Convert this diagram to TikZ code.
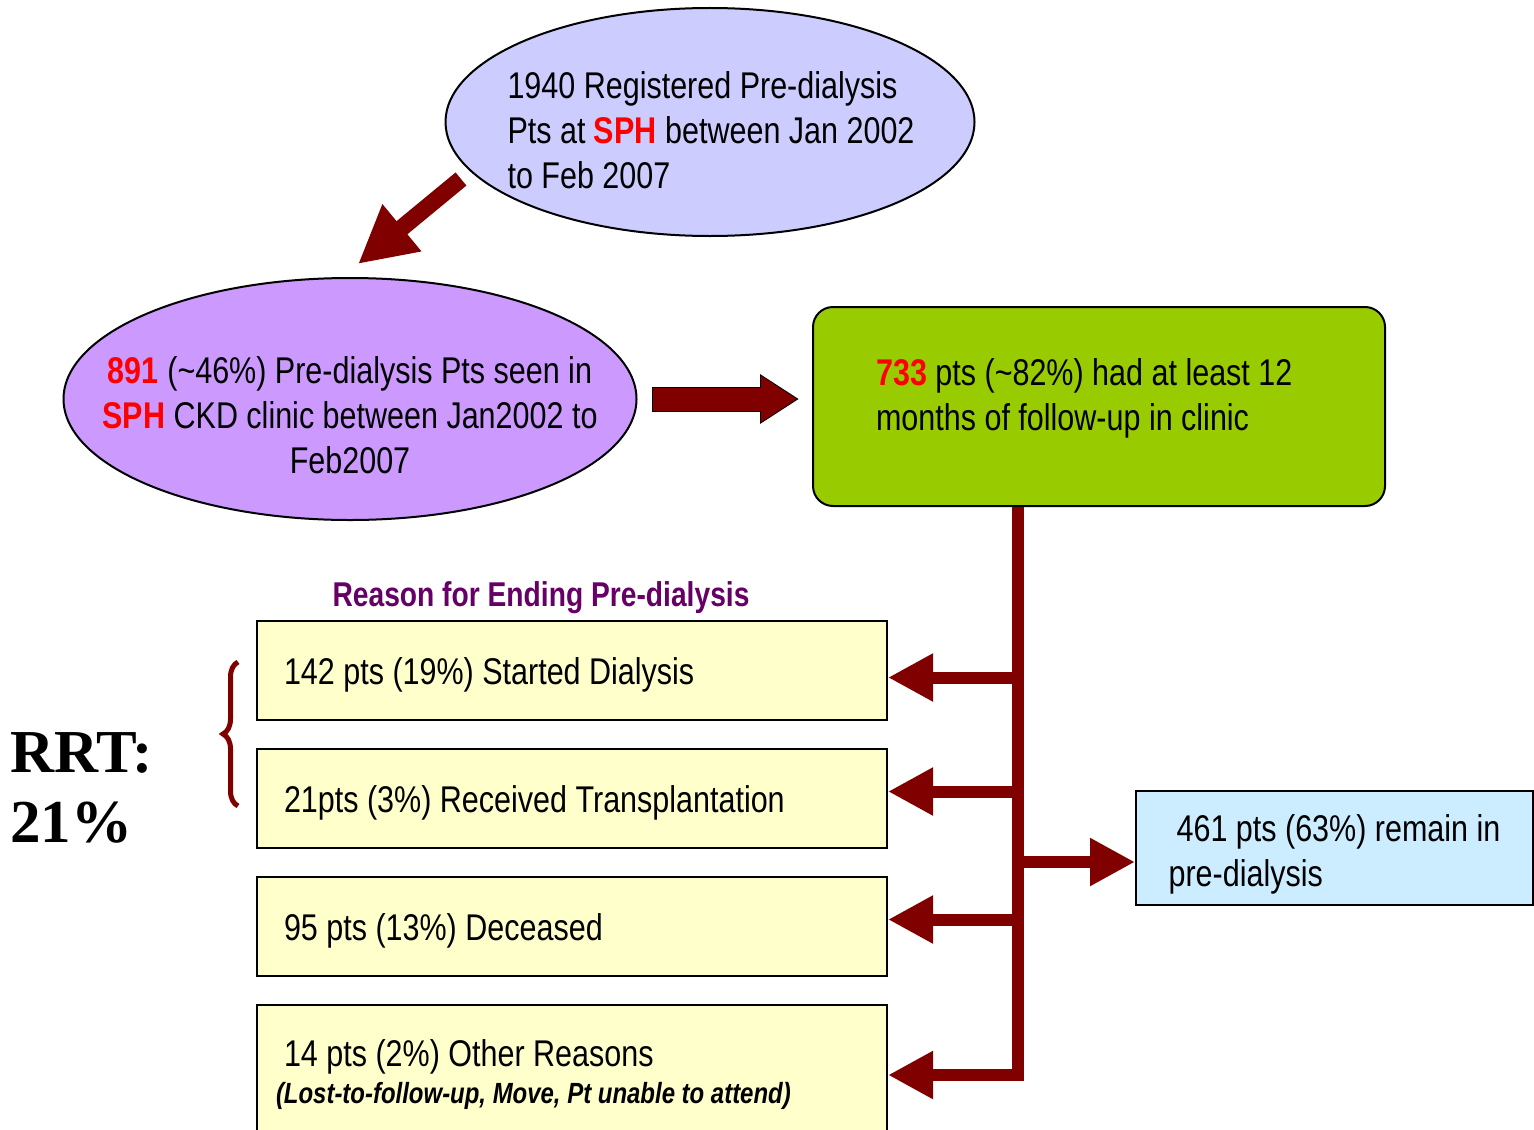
\documentclass[tikz,border=0pt]{standalone}
\usepackage{fontspec}
\setmainfont{Liberation Sans}[FakeStretch=0.82]
\newfontfamily\rrtfont{Liberation Serif}
\usetikzlibrary{arrows.meta,shapes.geometric,calc,decorations.pathreplacing}
\definecolor{lavender}{HTML}{CCCCFF}
\definecolor{lilac}{HTML}{CC99FF}
\definecolor{clinicgreen}{HTML}{99CC00}
\definecolor{paleyellow}{HTML}{FFFFCC}
\definecolor{paleblue}{HTML}{CCECFF}
\definecolor{darkred}{HTML}{800000}
\definecolor{titlepurple}{HTML}{660066}
\newcommand{\hl}[1]{\textcolor{red}{\textbf{#1}}}
\newcommand{\txtsize}{\fontsize{18.6}{22.5}\selectfont}

\begin{document}
\begin{tikzpicture}[x=0.5pt,y=-0.5pt,
  oval/.style={ellipse,draw=black,line width=1pt,inner sep=0pt},
  reason/.style={draw=black,line width=1pt,fill=paleyellow,anchor=north west,
    minimum width=315pt,minimum height=49.5pt,text width=288pt,inner xsep=13.5pt,
    align=flush left,font=\txtsize},
  branch/.style={darkred,line width=6pt,-{Triangle[length=22.5pt,width=22.5pt]}},
  bigarrow/.style={darkred,line width=8.5pt,-{Triangle[length=28.5pt,width=28.5pt]}}]
\useasboundingbox (0,0) rectangle (1534,1129);
% ellipses and clinic box
\node[oval,fill=lavender,minimum width=264.5pt,minimum height=114pt] (reg) at (710,122) {};
\node[font=\txtsize,align=left] (regtext) at (711,130)
  {1940 Registered Pre-dialysis\\Pts at \hl{SPH} between Jan 2002\\to Feb 2007};
\node[oval,fill=lilac,minimum width=286.5pt,minimum height=121pt] (seen) at (350,399) {};
\node[font=\txtsize,align=center] (seentext) at (350,415)
  {\hl{891} (\textasciitilde46\%) Pre-dialysis Pts seen in\\\hl{SPH} CKD clinic between Jan2002 to\\Feb2007};
\node[draw=black,line width=1pt,fill=clinicgreen,rounded corners=10pt,
  minimum width=286pt,minimum height=99.5pt] (fu) at (1099,406.5) {};
\node[font=\txtsize,align=left,anchor=west] (futext) at (869,398)
  {\hl{733} pts (\textasciitilde82\%) had at least 12\\months of follow-up in clinic};
% reasons
\node[font=\bfseries\fontsize{17.2}{20}\selectfont,text=titlepurple] (reasontitle) at (541,598)
  {Reason for Ending Pre-dialysis};
\node[reason] (box1) at (256,620) {\rule{0pt}{17.6pt}142 pts (19\%) Started Dialysis};
\node[reason] (box2) at (256,748) {\rule{0pt}{17.6pt}21pts (3\%) Received Transplantation};
\node[reason] (box3) at (256,876) {\rule{0pt}{17.6pt}95 pts (13\%) Deceased};
\node[reason,minimum height=70pt,text width=296pt,inner xsep=9.5pt] (box4) at (256,1004)
  {\hspace*{4pt}14 pts (2\%) Other Reasons\\[-4pt]
   {\fontsize{14.6}{17}\selectfont\bfseries\itshape (Lost-to-follow-up, Move, Pt unable to attend)}};
\node[draw=black,line width=1pt,fill=paleblue,anchor=north west,minimum width=198.5pt,
  minimum height=57pt,align=left,font=\txtsize] (remain) at (1135,790)
  {\rule{0pt}{19.6pt}\hspace*{4pt}461 pts (63\%) remain in\\pre-dialysis};
\node[anchor=west,align=left,inner sep=0pt,font=\rrtfont\bfseries\fontsize{30.5}{35}\selectfont]
  (rrt) at (10,788) {RRT:\\21\%};
% arrows
\coordinate (dtail) at (461,179);
\coordinate (dtip) at (358,264);
\draw[bigarrow] (dtail) -- (dtip);
\draw[black,line width=12.5pt,-{Triangle[length=19.5pt,width=23.5pt]},
  shorten <=7pt,shorten >=6.5pt] (seen.east) -- (seen.east -| fu.west);
\draw[darkred,line width=11.5pt,-{Triangle[length=18pt,width=22pt]},
  shorten <=7.5pt,shorten >=7.5pt] (seen.east) -- (seen.east -| fu.west);
\coordinate (trunk) at ($(fu.south)+(-81,0)$);
\draw[branch] (trunk) -- (trunk |- box4.east) -- (box4.east);
\foreach \b/\dy in {box1/7,box2/-7,box3/-7}
  \draw[branch] ($(trunk |- \b.east)+(0,\dy)$) -- ($(\b.east)+(0,\dy)$);
\draw[branch] ($(trunk |- remain.west)+(0,14)$) -- ($(remain.west)+(0,14)$);
\draw[darkred,line width=2.5pt,decorate,decoration={brace,amplitude=7.5pt}]
  (238,806) -- (238,662);
\end{tikzpicture}
\end{document}
